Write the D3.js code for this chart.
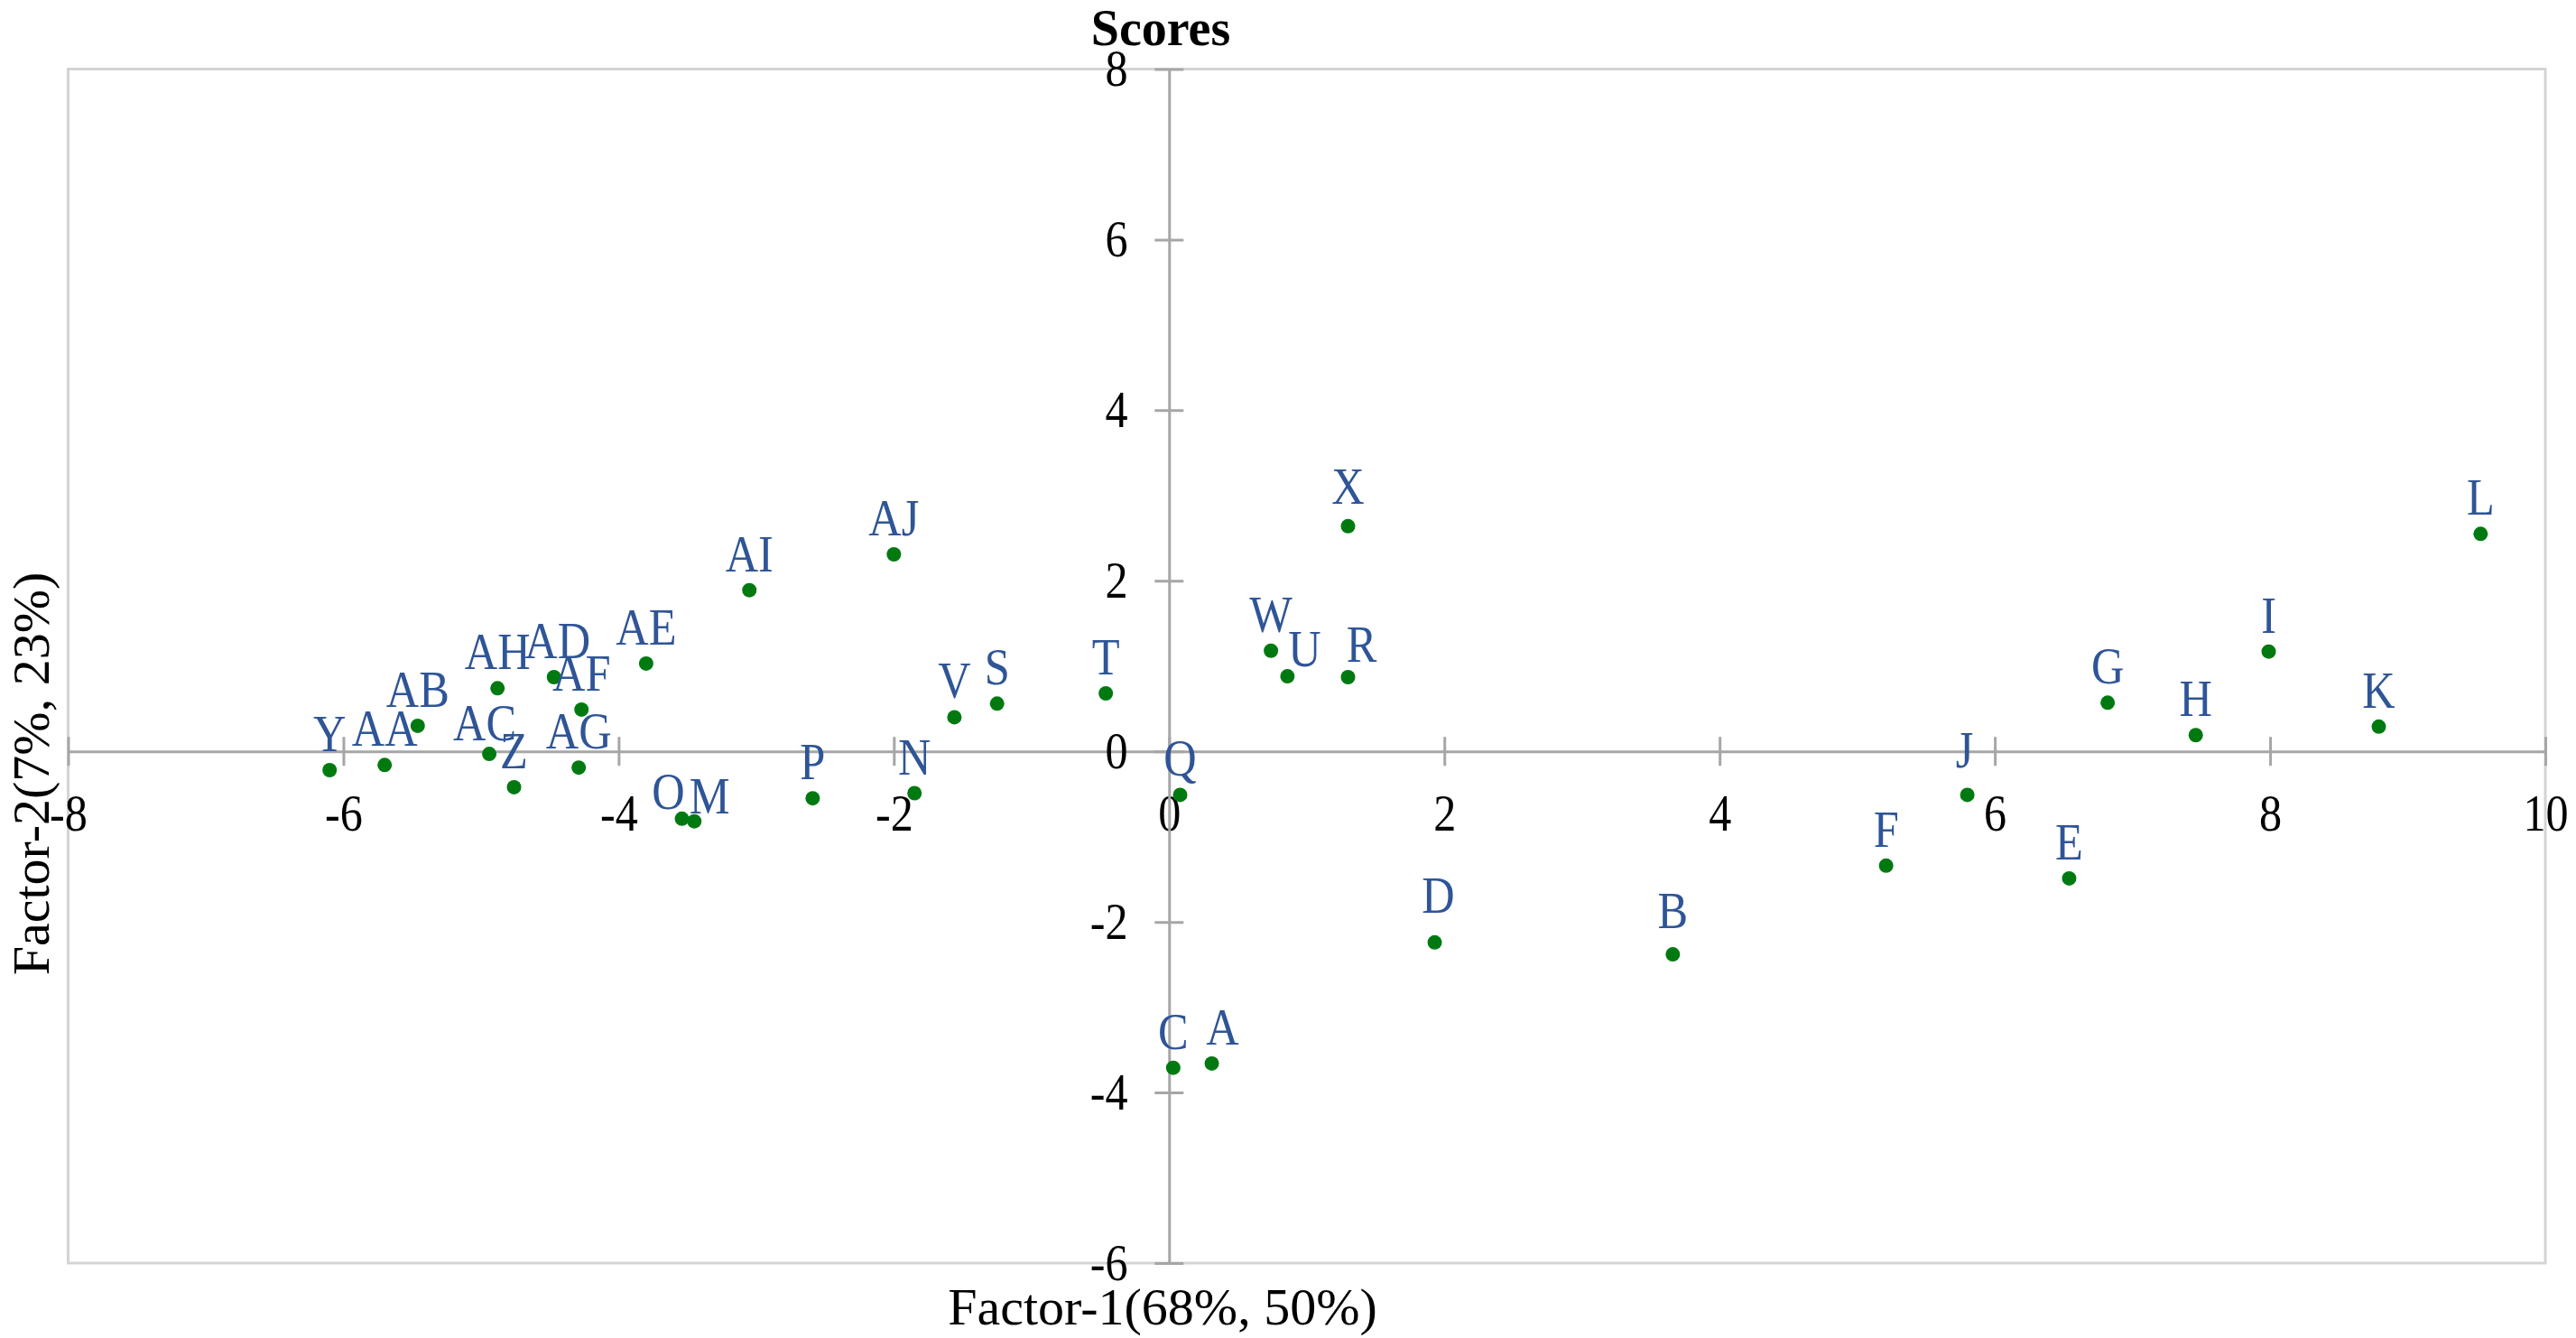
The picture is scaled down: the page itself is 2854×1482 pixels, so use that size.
<!DOCTYPE html>
<html>
<head>
<meta charset="utf-8">
<script src="https://cdn.jsdelivr.net/npm/d3@7"></script>
<style>
  html, body { margin: 0; padding: 0; background: #fff; }
  svg { display: block; font-family: "Liberation Serif", "Times New Roman", serif; }
</style>
</head>
<body>
<div id="chart"></div>
<script>
// Sample labels and their scores on the two factors
const labels = ["A", "B", "C", "D", "E", "F", "G", "H", "I", "J", "K", "L", "M",
    "N", "O", "P", "Q", "R", "S", "T", "U", "V", "W", "X", "Y", "Z",
    "AA", "AB", "AC", "AD", "AE", "AF", "AG", "AH", "AI", "AJ"];
const factor1 = [0.31, 3.66, 0.03, 1.93, 6.54, 5.21, 6.82, 7.46, 7.99, 5.80, 8.79, 9.53, -3.45,
    -1.85, -3.54, -2.59, 0.08, 1.30, -1.25, -0.46, 0.86, -1.56, 0.74, 1.30, -6.10, -4.76,
    -5.70, -5.46, -4.94, -4.47, -3.80, -4.27, -4.29, -4.88, -3.05, -2.00];
const factor2 = [-3.66, -2.38, -3.71, -2.24, -1.49, -1.34, 0.57, 0.19, 1.17, -0.51, 0.29, 2.55, -0.82,
    -0.49, -0.79, -0.55, -0.51, 0.87, 0.56, 0.68, 0.88, 0.40, 1.18, 2.64, -0.22, -0.42,
    -0.16, 0.30, -0.03, 0.87, 1.03, 0.49, -0.19, 0.74, 1.89, 2.31];
const xTicks = [-8, -6, -4, -2, 0, 2, 4, 6, 8, 10];
const yTicks = [-6, -4, -2, 0, 2, 4, 6, 8];

const data = labels.map((name, i) => ({name: name, x: factor1[i], y: factor2[i]}));

// label nudges (px) where the labels were moved off the default "above" spot
const labelNudge = {
    O: [-15, 10], M: [17, 12], U: [19, 10], R: [15, 4], A: [12, 0],
    AC: [-5, 6], AD: [4, 0], D: [4, -12], B: [0, -8], J: [-3, -9], X: [0, -4]
};

const width = 2854;
const height = 1482;
const plot = {left: 75.5, right: 2820, top: 76.5, bottom: 1399};
const squeeze = 0.88;   // glyphs in the original are a little narrow

const x = d3.scaleLinear().domain([-8, 10]).range([plot.left, plot.right]);
const y = d3.scaleLinear().domain([-6, 8]).range([plot.bottom, plot.top]);

const svg = d3.select("#chart")
    .append("svg")
    .attr("width", width)
    .attr("height", height);

// plot area border
svg.append("rect")
    .attr("x", plot.left)
    .attr("y", plot.top)
    .attr("width", plot.right - plot.left)
    .attr("height", plot.bottom - plot.top)
    .attr("fill", "none")
    .attr("stroke", "#d4d4d4")
    .attr("stroke-width", 3);

// x axis through y = 0
const xAxis = svg.append("g")
    .attr("transform", `translate(0,${y(0)})`)
    .call(d3.axisBottom(x).tickValues(xTicks).tickFormat(d => String(d))
        .tickSize(16).tickSizeOuter(0).tickPadding(31));

// y axis through x = 0
const yAxis = svg.append("g")
    .attr("transform", `translate(${x(0)},0)`)
    .call(d3.axisLeft(y).tickValues(yTicks).tickFormat(d => String(d))
        .tickSize(16).tickSizeOuter(0).tickPadding(36));

xAxis.selectAll(".tick line").attr("y1", -16).attr("y2", 16);
yAxis.selectAll(".tick line").attr("x1", -16).attr("x2", 16);

[xAxis, yAxis].forEach(g => {
    g.select(".domain").attr("stroke", "#a6a6a6").attr("stroke-width", 3);
    g.selectAll(".tick line").attr("stroke", "#a6a6a6").attr("stroke-width", 3);
    g.selectAll(".tick text")
        .attr("fill", "#000")
        .attr("transform", `scale(${squeeze},1)`)
        .style("font-family", "'Liberation Serif', 'Times New Roman', serif")
        .style("font-size", "57px");
});

// points
svg.append("g")
    .selectAll("circle")
    .data(data)
    .join("circle")
    .attr("cx", d => x(d.x))
    .attr("cy", d => y(d.y))
    .attr("r", 8)
    .attr("fill", "#007a10");

// point labels
svg.append("g")
    .selectAll("text")
    .data(data)
    .join("text")
    .attr("transform", d => {
        const n = labelNudge[d.name] || [0, 0];
        return `translate(${x(d.x) + n[0]},${y(d.y) - 21 + n[1]}) scale(0.9,1)`;
    })
    .attr("text-anchor", "middle")
    .attr("fill", "#2f5597")
    .style("font-size", "56px")
    .text(d => d.name);

// title
svg.append("text")
    .attr("x", 1286)
    .attr("y", 50)
    .attr("text-anchor", "middle")
    .style("font-size", "56px")
    .style("font-weight", "bold")
    .text("Scores");

// axis titles
svg.append("text")
    .attr("x", 1288)
    .attr("y", 1467)
    .attr("text-anchor", "middle")
    .style("font-size", "58px")
    .text("Factor-1(68%, 50%)");

svg.append("text")
    .attr("transform", "translate(54,857) rotate(-90)")
    .attr("text-anchor", "middle")
    .style("font-size", "58px")
    .text("Factor-2(7%, 23%)");
</script>
</body>
</html>
